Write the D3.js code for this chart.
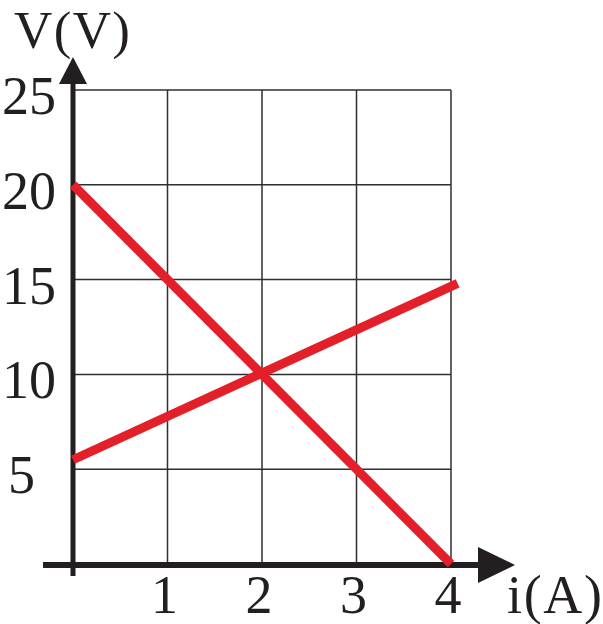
<!DOCTYPE html>
<html><head><meta charset="utf-8">
<script src="https://cdn.jsdelivr.net/npm/d3@7"></script>
<style>html,body{margin:0;padding:0;background:#fff;}svg{display:block;}</style>
</head><body>
<script>
const xTicks = [1, 2, 3, 4];
const yTicks = [5, 10, 15, 20, 25];
const xGrid = [0, 1, 2, 3, 4];
const yGrid = [0, 5, 10, 15, 20, 25];
const lineFalling = [[0, 20], [4, 0]];
const lineRising = [[0, 5.5], [4.07, 14.8]];
const xTitle = "i(A)";
const yTitle = "V(V)";

const W = 603, H = 624;
const svg = d3.select("body").append("svg").attr("width", W).attr("height", H);
const x = d3.scaleLinear().domain([0, 4]).range([73, 451]);
const y = d3.scaleLinear().domain([0, 25]).range([564, 90]);
const font = "'Liberation Serif','Times New Roman',serif";
const ink = "#231f20";

// grid
svg.append("g").selectAll("line").data(xGrid).join("line")
  .attr("x1", d => x(d)).attr("x2", d => x(d))
  .attr("y1", y(0)).attr("y2", y(25))
  .attr("stroke", "#2f2f2f").attr("stroke-width", 1.5);
svg.append("g").selectAll("line").data(yGrid).join("line")
  .attr("x1", x(0)).attr("x2", x(4))
  .attr("y1", d => y(d)).attr("y2", d => y(d))
  .attr("stroke", "#2f2f2f").attr("stroke-width", 1.5);

// axes
svg.append("line").attr("x1", 43).attr("x2", 480).attr("y1", y(0) + 1).attr("y2", y(0) + 1)
  .attr("stroke", ink).attr("stroke-width", 6);
svg.append("path")
  .attr("d", `M478,${y(0)+1-18} L515,${y(0)+1} L478,${y(0)+1+18} Z`).attr("fill", ink);
svg.append("line").attr("x1", x(0)).attr("x2", x(0)).attr("y1", 576).attr("y2", 82)
  .attr("stroke", ink).attr("stroke-width", 5);
svg.append("path")
  .attr("d", `M${x(0)-14},84 L${x(0)},57 L${x(0)+14},84 Z`).attr("fill", ink);

// data lines
const line = d3.line().x(d => x(d[0])).y(d => y(d[1]));
[lineFalling, lineRising].forEach(data => {
  svg.append("path").attr("d", line(data)).attr("fill", "none")
    .attr("stroke", "#e3202a").attr("stroke-width", 9);
});

// tick labels
svg.append("g").selectAll("text").data(xTicks).join("text")
  .attr("x", d => x(d) - 3).attr("y", 613).attr("text-anchor", "middle")
  .attr("font-family", font).attr("font-size", 54).attr("fill", ink)
  .text(d => d);
svg.append("g").selectAll("text").data(yTicks).join("text")
  .attr("x", d => d < 10 ? 8 : 2).attr("y", d => y(d) + 24).attr("text-anchor", "start")
  .attr("font-family", font).attr("font-size", 54).attr("fill", ink)
  .text(d => d);

// titles
svg.append("text").attr("x", 14).attr("y", 47.5).attr("font-family", font)
  .attr("font-size", 53).attr("fill", ink).attr("textLength", 116).text(yTitle);
svg.append("text").attr("x", 507).attr("y", 613).attr("font-family", font)
  .attr("font-size", 54).attr("fill", ink).attr("textLength", 95).text(xTitle);
</script>
</body></html>
